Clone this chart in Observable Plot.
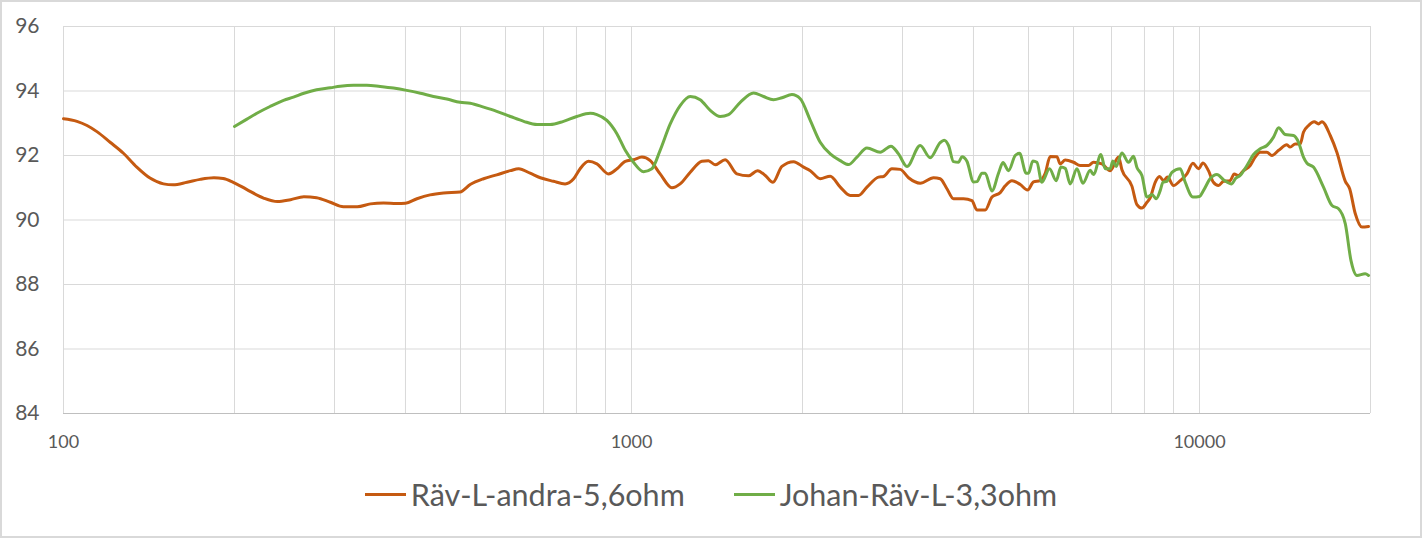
<!DOCTYPE html>
<html>
<head>
<meta charset="utf-8">
<script src="https://cdn.jsdelivr.net/npm/d3@7"></script>
<script src="https://cdn.jsdelivr.net/npm/@observablehq/plot@0.6"></script>
<style>
  html, body { margin: 0; padding: 0; background: #fff; }
  #page { position: relative; width: 1422px; height: 538px; overflow: hidden; font-family: Lato, "Open Sans", sans-serif; }
  #chart { position: absolute; left: 0; top: 0; }
  #legend { position: absolute; left: 0; top: 470px; width: 1422px; height: 48px;
            display: flex; justify-content: center; align-items: center; gap: 49px;
            color: #595959; font-size: 30.5px; }
  .item { display: flex; align-items: center; gap: 5px; }
  .swatch { width: 41px; height: 3px; }
  #frame { position: absolute; left: 0; top: 0; width: 1422px; height: 538px; box-sizing: border-box;
           border: 2px solid #d9d9d9; pointer-events: none; }
</style>
</head>
<body>
<div id="page">
  <div id="chart"></div>
  <div id="legend"></div>
  <div id="frame"></div>
</div>
<script>
// ---- Data ----
const seriesNames = ["Räv-L-andra-5,6ohm", "Johan-Räv-L-3,3ohm"];
const seriesColors = ["#C55A11", "#70AD47"];

const ravFreq = [100,105.6,110,114.5,120.8,127.5,134.6,142,150,156,165,174,184,191,199,210,225,238,251,265,279,295,311,329,347,366,386,400,419,442,467,499,520,549,579,612,633,663,691,729,764,791,812,840,869,911,943,975,1008,1043,1079,1123,1178,1218,1269,1330,1366,1404,1462,1533,1607,1667,1720,1774,1840,1929,2009,2064,2149,2238,2331,2427,2510,2597,2722,2778,2874,2972,3074,3223,3402,3495,3592,3689,3842,3975,4056,4195,4311,4458,4550,4675,4835,4980,5102,5242,5350,5459,5610,5685,5802,6001,6166,6376,6507,6733,6963,7201,7301,7603,7759,7918,8081,8189,8356,8503,8641,8784,8999,9247,9502,9736,9959,10140,10370,10580,10800,11020,11320,11510,11710,11950,12280,12530,12790,13140,13410,13780,14250,14440,14740,15040,15240,15560,15920,16200,16420,16990,17450,18060,18380,18800,19320,19840];
const ravDb = [93.14,93.06,92.93,92.74,92.41,92.07,91.64,91.30,91.12,91.09,91.17,91.26,91.31,91.29,91.17,90.95,90.68,90.57,90.63,90.72,90.69,90.55,90.41,90.41,90.50,90.53,90.51,90.52,90.66,90.78,90.84,90.87,91.10,91.28,91.40,91.53,91.59,91.45,91.31,91.20,91.12,91.28,91.59,91.82,91.74,91.43,91.59,91.82,91.87,91.95,91.84,91.43,91.00,91.12,91.48,91.82,91.84,91.71,91.87,91.43,91.37,91.53,91.38,91.17,91.66,91.81,91.64,91.53,91.28,91.36,91.02,90.76,90.76,91.02,91.33,91.35,91.59,91.57,91.31,91.14,91.31,91.28,90.97,90.66,90.66,90.60,90.31,90.31,90.71,90.85,91.06,91.22,91.10,90.93,91.18,91.22,91.45,91.97,91.96,91.74,91.86,91.79,91.69,91.69,91.79,91.74,91.53,91.95,91.56,91.05,90.48,90.37,90.55,90.69,91.17,91.35,91.22,91.33,91.07,91.22,91.43,91.76,91.59,91.77,91.53,91.17,91.07,91.20,91.22,91.43,91.38,91.53,91.69,91.95,92.10,92.10,92.00,92.16,92.33,92.26,92.36,92.36,92.72,92.93,93.05,92.98,93.05,92.62,92.10,91.20,90.97,90.20,89.78,89.80];

const johanFreq = [200,210,219,231,244,254,265,279,295,307,324,342,361,381,402,425,448,473,499,520,549,579,612,646,682,719,759,801,846,869,905,943,975,1008,1050,1086,1123,1170,1218,1269,1321,1376,1433,1482,1554,1640,1708,1778,1840,1916,1982,2064,2149,2238,2331,2410,2494,2597,2741,2862,2952,3054,3223,3356,3495,3552,3615,3689,3765,3817,3895,4001,4056,4140,4195,4311,4427,4508,4611,4737,4821,4953,4999,5089,5172,5278,5444,5594,5702,5802,5920,6084,6234,6421,6507,6705,6823,6963,7038,7133,7301,7499,7652,7759,7918,8081,8246,8391,8527,8622,8762,8941,9247,9437,9736,10000,10160,10440,10730,11020,11400,11560,11790,12120,12450,12790,13140,13500,13780,14150,14640,14940,15240,15460,15870,16530,17110,17570,18060,18480,18930,19570,19840];
const johanDb = [92.90,93.12,93.31,93.52,93.71,93.81,93.93,94.04,94.10,94.15,94.18,94.18,94.14,94.09,94.02,93.93,93.83,93.75,93.65,93.62,93.50,93.37,93.21,93.06,92.96,92.96,93.06,93.21,93.31,93.27,93.09,92.67,92.16,91.79,91.50,91.59,92.16,92.98,93.55,93.83,93.73,93.40,93.21,93.27,93.65,93.94,93.83,93.73,93.79,93.89,93.76,93.09,92.41,92.05,91.84,91.72,91.95,92.23,92.10,92.29,92.05,91.66,92.31,91.93,92.40,92.47,92.31,91.81,91.79,91.96,91.82,91.18,91.19,91.45,91.45,90.90,91.45,91.78,91.53,92.00,92.07,91.45,91.45,91.83,91.79,91.17,91.59,91.22,91.64,91.60,91.12,91.59,91.14,91.54,91.41,92.03,91.59,91.59,91.83,91.66,92.08,91.79,91.98,91.63,91.38,90.71,90.79,90.66,90.91,91.17,91.20,91.48,91.59,91.17,90.71,90.73,90.91,91.28,91.41,91.25,91.12,91.28,91.38,91.69,92.03,92.21,92.31,92.57,92.86,92.65,92.62,92.41,91.95,91.76,91.64,91.02,90.45,90.35,89.88,88.74,88.28,88.33,88.28];

const xLabelTicks = [100, 1000, 10000];
const xGridTicks = [100,200,300,400,500,600,700,800,900,1000,2000,3000,4000,5000,6000,7000,8000,9000,10000,20000];
const yTicks = [84, 86, 88, 90, 92, 94, 96];

// ---- Build tables ----
const rav = ravFreq.map((f, i) => ({f, db: ravDb[i]}));
const johan = johanFreq.map((f, i) => ({f, db: johanDb[i]}));

const chart = Plot.plot({
  width: 1422,
  height: 470,
  marginLeft: 63,
  marginRight: 52,
  marginTop: 26,
  marginBottom: 57,
  style: {fontFamily: "Lato, 'Open Sans', sans-serif", color: "#595959", background: "transparent"},
  x: {type: "log", domain: [100, 20000]},
  y: {domain: [84, 96]},
  marks: [
    Plot.gridX(xGridTicks, {stroke: "#d9d9d9", strokeOpacity: 1, strokeWidth: 1}),
    Plot.gridY(yTicks, {stroke: "#d9d9d9", strokeOpacity: 1, strokeWidth: 1}),
    Plot.ruleY([84], {stroke: "#bfbfbf", strokeWidth: 1}),
    Plot.axisX(xLabelTicks, {tickSize: 0, tickPadding: 22, fontSize: 18, tickFormat: d => String(d), label: null}),
    Plot.axisY(yTicks, {tickSize: 0, tickPadding: 24, fontSize: 21, label: null}),
    Plot.line(rav, {x: "f", y: "db", stroke: seriesColors[0], strokeWidth: 3, curve: "monotone-x"}),
    Plot.line(johan, {x: "f", y: "db", stroke: seriesColors[1], strokeWidth: 3, curve: "monotone-x"})
  ]
});
document.getElementById("chart").appendChild(chart);

const legend = document.getElementById("legend");
seriesNames.forEach((name, i) => {
  const item = document.createElement("div");
  item.className = "item";
  const sw = document.createElement("div");
  sw.className = "swatch";
  sw.style.background = seriesColors[i];
  const label = document.createElement("span");
  label.textContent = name;
  item.appendChild(sw);
  item.appendChild(label);
  legend.appendChild(item);
});
</script>
</body>
</html>
